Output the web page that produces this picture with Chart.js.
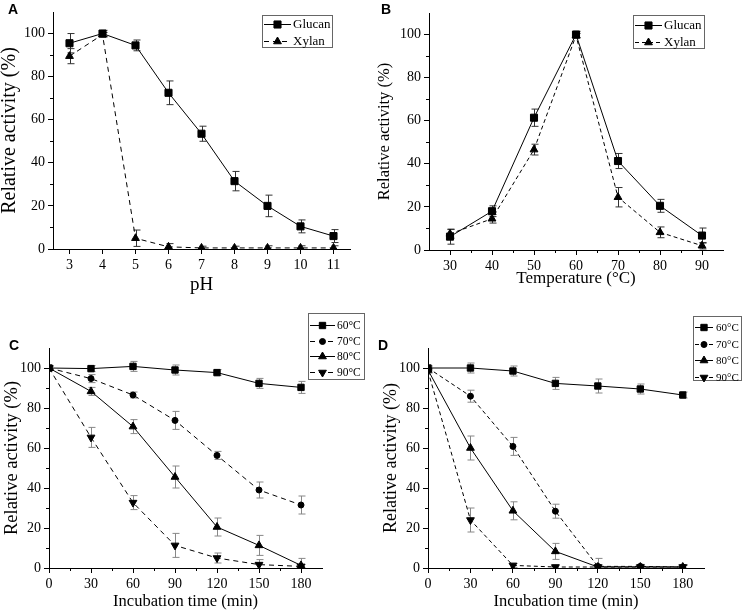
<!DOCTYPE html>
<html>
<head>
<meta charset="utf-8">
<script src="https://cdn.jsdelivr.net/npm/chart.js@4.4.0/dist/chart.umd.min.js"></script>
<style>
  body { margin: 0; background: #fff; }
  #wrap { position: relative; width: 742px; height: 613px; overflow: hidden; }
  .panel { position: absolute; }
  .tag { position: absolute; font: bold 14px "Liberation Sans", Arial, sans-serif; line-height: 1; color: #000; }
</style>
</head>
<body>
<div id="wrap">
  <div class="panel" style="left:0;top:0"><canvas id="chartA" width="371" height="300"></canvas></div>
  <div class="panel" style="left:371px;top:0"><canvas id="chartB" width="371" height="300"></canvas></div>
  <div class="panel" style="left:0;top:300px"><canvas id="chartC" width="371" height="313"></canvas></div>
  <div class="panel" style="left:371px;top:300px"><canvas id="chartD" width="371" height="313"></canvas></div>
  <div class="tag" style="left:8px;top:2px">A</div>
  <div class="tag" style="left:381px;top:2px">B</div>
  <div class="tag" style="left:9px;top:338px">C</div>
  <div class="tag" style="left:378px;top:338px">D</div>
</div>
<script>
// panel A - pH
var phValues = [3, 4, 5, 6, 7, 8, 9, 10, 11];
var phGlucan = [95.5, 100, 94.5, 72.5, 53.5, 31.5, 20, 10.5, 6];
var phGlucanErr = [4.5, 1.5, 2.5, 5.5, 3.5, 4.5, 5, 3, 3];
var phXylan = [89.5, 99.5, 5, 1, 0.5, 0.5, 0.5, 0.5, 0.5];
var phXylanErr = [3.5, 1, 3.8, 1.5, 0.8, 0.8, 1, 1, 1];

// panel B - temperature
var tempValues = [30, 40, 50, 60, 70, 80, 90];
var tempGlucan = [6.2, 18, 61.4, 100, 41.3, 20.5, 6.7];
var tempGlucanErr = [3.5, 2.5, 4, 1.5, 3.5, 3, 3.5];
var tempXylan = [7.5, 14.5, 46.6, 99.5, 24.5, 8.2, 2];
var tempXylanErr = [2, 2, 2.5, 1, 4.5, 2.5, 1.5];

// panels C and D - incubation time
var timeValues = [0, 30, 60, 90, 120, 150, 180];
var c60 = [100, 99.7, 100.8, 99, 97.7, 92.3, 90.3];
var c60Err = [1, 1.5, 2.5, 2.5, 1.5, 2.5, 3];
var c70 = [100, 94.7, 86.5, 73.8, 56.3, 39, 31.5];
var c70Err = [1, 2, 1.5, 4.5, 2, 4, 4.5];
var c80 = [100, 88.3, 70.7, 45.5, 20.5, 11.3, 1.3];
var c80Err = [1, 2, 3.5, 5.5, 4.5, 5, 3.5];
var c90 = [100, 65.3, 32.7, 11.3, 5, 1.7, 0.8];
var c90Err = [1, 5, 3.5, 6, 2.5, 2.5, 1];

var d60 = [100, 100, 98.5, 92.3, 91, 89.5, 86.5];
var d60Err = [1, 2.5, 2.5, 3, 3.5, 2.5, 1.5];
var d70 = [100, 85.9, 60.8, 28.4, 0.8, 0.8, 0.5];
var d70Err = [1, 3, 4.5, 3.5, 4, 1, 1];
var d80 = [99, 60, 28.6, 8.3, 0.5, 0.5, 0.5];
var d80Err = [1, 6, 4.5, 4, 1, 1, 1];
var d90 = [98.5, 24, 1.3, 0.5, 0.5, 0.5, 0.5];
var d90Err = [1, 6, 1, 1, 1, 1, 1];

var yTicks = [0, 20, 40, 60, 80, 100];
var yMinor = [10, 30, 50, 70, 90];
var tempMinor = [35, 45, 55, 65, 75, 85];
var timeMinor = [15, 45, 75, 105, 135, 165];

var serif = '"Liberation Serif", "Times New Roman", serif';

// error bars drawn under the lines
var errorBars = {
  id: 'errorBars',
  beforeDatasetsDraw: function (chart, args, opts) {
    var ctx = chart.ctx;
    var area = chart.chartArea;
    var ys = chart.scales.y;
    ctx.save();
    ctx.beginPath();
    ctx.rect(area.left, 0, area.width, area.bottom);
    ctx.clip();
    ctx.strokeStyle = opts.color;
    ctx.lineWidth = 1;
    chart.data.datasets.forEach(function (ds, i) {
      if (!ds.errors) return;
      var meta = chart.getDatasetMeta(i);
      meta.data.forEach(function (pt, j) {
        var v = ds.data[j].y, e = ds.errors[j];
        var x = Math.round(pt.x) + 0.5;
        var y1 = ys.getPixelForValue(v + e);
        var y2 = ys.getPixelForValue(v - e);
        ctx.beginPath();
        ctx.moveTo(x, y1); ctx.lineTo(x, y2);
        ctx.moveTo(x - 3, y1); ctx.lineTo(x + 4, y1);
        ctx.moveTo(x - 3, y2); ctx.lineTo(x + 4, y2);
        ctx.stroke();
      });
    });
    ctx.restore();
  }
};

// short unlabeled ticks between the major ones
var minorTicks = {
  id: 'minorTicks',
  afterDraw: function (chart, args, opts) {
    var ctx = chart.ctx;
    var xs = chart.scales.x, ys = chart.scales.y;
    var area = chart.chartArea;
    ctx.save();
    ctx.strokeStyle = '#000';
    ctx.lineWidth = 1;
    ctx.beginPath();
    (opts.x || []).forEach(function (v) {
      var px = Math.round(xs.getPixelForValue(v)) + 0.5;
      ctx.moveTo(px, area.bottom); ctx.lineTo(px, area.bottom + 3);
    });
    (opts.y || []).forEach(function (v) {
      var py = Math.round(ys.getPixelForValue(v)) + 0.5;
      ctx.moveTo(area.left, py); ctx.lineTo(area.left - 3, py);
    });
    ctx.stroke();
    ctx.restore();
  }
};

// boxed legend with line + marker samples
var boxLegend = {
  id: 'boxLegend',
  afterDraw: function (chart, args, o) {
    if (!o.box) return;
    var ctx = chart.ctx;
    ctx.save();
    ctx.strokeStyle = '#666';
    ctx.lineWidth = 1;
    ctx.strokeRect(o.box[0] + 0.5, o.box[1] + 0.5, o.box[2], o.box[3]);
    ctx.font = o.fontSize + 'px ' + serif;
    ctx.textBaseline = 'middle';
    ctx.fillStyle = '#000';
    chart.data.datasets.forEach(function (ds, i) {
      var y = Math.round(o.row0 + i * o.rowH) + 0.5;
      ctx.strokeStyle = '#000';
      ctx.setLineDash(ds.borderDash || []);
      ctx.beginPath();
      ctx.moveTo(o.line[0], y); ctx.lineTo(o.line[1], y);
      ctx.stroke();
      ctx.setLineDash([]);
      Chart.helpers.drawPoint(ctx, {
        pointStyle: ds.pointStyle, rotation: ds.pointRotation || 0,
        radius: ds.pointRadius, borderWidth: 1
      }, (o.line[0] + o.line[1]) / 2, y);
      ctx.fillText(ds.label, o.textX, y + 0.5);
    });
    ctx.restore();
  }
};

function series(label, xs, ys, errs, style, radius, dash, rot) {
  return {
    label: label,
    data: xs.map(function (x, i) { return { x: x, y: ys[i] }; }),
    errors: errs,
    borderColor: '#000',
    backgroundColor: '#000',
    borderWidth: 1,
    borderDash: dash,
    pointStyle: style,
    pointRadius: radius,
    pointHoverRadius: radius,
    pointRotation: rot || 0,
    pointBorderWidth: 1,
    tension: 0
  };
}

function makeChart(id, p) {
  return new Chart(document.getElementById(id), {
    type: 'line',
    data: { datasets: p.datasets },
    options: {
      responsive: false,
      animation: false,
      events: [],
      layout: { padding: p.padding },
      plugins: {
        legend: { display: false },
        tooltip: { enabled: false },
        errorBars: { color: p.errColor },
        minorTicks: { x: p.xMinor, y: yMinor },
        boxLegend: p.legend
      },
      scales: {
        x: {
          type: 'linear',
          min: p.xMin, max: p.xMax,
          afterBuildTicks: function (s) { s.ticks = p.xTicks.map(function (v) { return { value: v }; }); },
          afterFit: function (s) { s.height = p.xHeight; },
          grid: { drawOnChartArea: false, drawTicks: true, tickLength: 5, tickColor: '#000' },
          border: { display: true, color: '#000', width: 1 },
          ticks: { color: '#000', padding: 3, maxRotation: 0, autoSkip: false, font: { family: serif, size: 14 } },
          title: { display: true, text: p.xTitle, color: '#000', font: { family: serif, size: p.xTitleSize, lineHeight: 1 }, padding: { top: 0, bottom: p.xTitlePad } }
        },
        y: {
          min: 0, max: 110,
          afterBuildTicks: function (s) { s.ticks = yTicks.map(function (v) { return { value: v }; }); },
          afterFit: function (s) { s.width = p.yWidth; },
          grid: { drawOnChartArea: false, drawTicks: true, tickLength: 5, tickColor: '#000' },
          border: { display: true, color: '#000', width: 1 },
          ticks: { color: '#000', padding: 3, font: { family: serif, size: 14 } },
          title: { display: true, text: 'Relative activity (%)', color: '#000', font: { family: serif, size: p.yTitleSize, lineHeight: 1 }, padding: { top: p.yTitlePad, bottom: 0 } }
        }
      }
    },
    plugins: [errorBars, minorTicks, boxLegend]
  });
}

makeChart('chartA', {
  datasets: [
    series('Glucan', phValues, phGlucan, phGlucanErr, 'rect', 5, []),
    series('Xylan', phValues, phXylan, phXylanErr, 'triangle', 4.5, [5, 4])
  ],
  padding: { top: 12, right: 21, left: 0, bottom: 0 },
  xMin: 2.5, xMax: 11.5, xTicks: phValues, xMinor: [],
  xHeight: 51, yWidth: 53,
  xTitle: 'pH', xTitleSize: 19, xTitlePad: 5,
  yTitleSize: 20, yTitlePad: 0,
  errColor: '#333',
  legend: { box: [262, 15, 70, 32], line: [264, 291], textX: 293, row0: 24, rowH: 17, fontSize: 13 }
});

makeChart('chartB', {
  datasets: [
    series('Glucan', tempValues, tempGlucan, tempGlucanErr, 'rect', 5, []),
    series('Xylan', tempValues, tempXylan, tempXylanErr, 'triangle', 4.5, [4, 3])
  ],
  padding: { top: 13, right: 19, left: 0, bottom: 0 },
  xMin: 25, xMax: 95, xTicks: tempValues, xMinor: tempMinor,
  xHeight: 50, yWidth: 58,
  xTitle: 'Temperature (\u00B0C)', xTitleSize: 17, xTitlePad: 13,
  yTitleSize: 16.5, yTitlePad: 5,
  errColor: '#333',
  legend: { box: [262, 15, 71, 33], line: [264, 291], textX: 293, row0: 25, rowH: 17, fontSize: 13 }
});

makeChart('chartC', {
  datasets: [
    series('60\u00B0C', timeValues, c60, c60Err, 'rect', 4.5, []),
    series('70\u00B0C', timeValues, c70, c70Err, 'circle', 3, [5, 4]),
    series('80\u00B0C', timeValues, c80, c80Err, 'triangle', 4.5, []),
    series('90\u00B0C', timeValues, c90, c90Err, 'triangle', 4.5, [5, 4], 180)
  ],
  padding: { top: 48, right: 49, left: 0, bottom: 0 },
  xMin: 0, xMax: 195, xTicks: timeValues, xMinor: timeMinor,
  xHeight: 45, yWidth: 49,
  xTitle: 'Incubation time (min)', xTitleSize: 16.5, xTitlePad: 3,
  yTitleSize: 18.5, yTitlePad: 3,
  errColor: '#888',
  legend: { box: [308, 13, 56, 66], line: [310, 335], textX: 337, row0: 25, rowH: 15.7, fontSize: 11.5 }
});

makeChart('chartD', {
  datasets: [
    series('60\u00B0C', timeValues, d60, d60Err, 'rect', 4.5, []),
    series('70\u00B0C', timeValues, d70, d70Err, 'circle', 3, [4, 3]),
    series('80\u00B0C', timeValues, d80, d80Err, 'triangle', 4.5, []),
    series('90\u00B0C', timeValues, d90, d90Err, 'triangle', 4.5, [4, 3], 180)
  ],
  padding: { top: 48, right: 38, left: 0, bottom: 0 },
  xMin: 0, xMax: 195, xTicks: timeValues, xMinor: timeMinor,
  xHeight: 45, yWidth: 57,
  xTitle: 'Incubation time (min)', xTitleSize: 16.5, xTitlePad: 3,
  yTitleSize: 18, yTitlePad: 11,
  errColor: '#888',
  legend: { box: [322, 16, 48, 64], line: [324, 342], textX: 345, row0: 27, rowH: 16.7, fontSize: 11 }
});
</script>
</body>
</html>
